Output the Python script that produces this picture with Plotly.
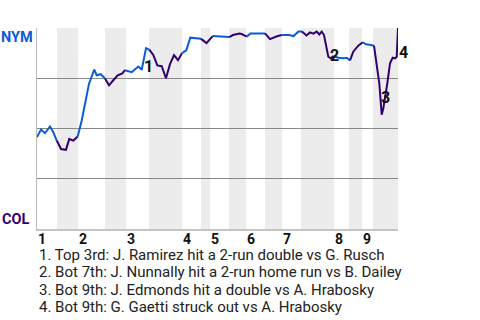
import plotly.graph_objects as go

# Game progress (event units) and NYM win probability
x_vals = [0.0, 0.94, 1.88, 3.06, 3.84, 4.64, 5.65, 6.82, 7.6, 8.54, 9.58, 10.52, 11.46, 12.24,
          13.48, 14.05, 14.99, 16.0, 16.94, 17.95, 18.99, 20.07, 20.7, 22.28, 23.84, 24.64,
          25.65, 26.42, 27.36, 28.31, 29.34, 30.35, 31.29, 32.24, 33.18, 34.12, 35.13, 36.07,
          37.18, 38.59, 39.88, 41.34, 44.24, 45.25, 46.12, 47.6, 48.16, 49.34, 50.24, 53.65,
          54.82, 56.47, 57.58, 59.29, 60.35, 61.53, 62.35, 63.41, 64.24, 65.01, 65.81, 66.42,
          66.99, 67.53, 68.54, 69.11, 69.76, 70.89, 72.07, 72.87, 73.65, 74.42, 75.6, 76.64,
          77.41, 78.52, 79.29, 80.54, 81.11, 81.48, 82.42, 83.06, 83.69, 84.24, 84.64, 84.94]
win_prob = [0.457, 0.495, 0.477, 0.51, 0.482, 0.44, 0.398, 0.394, 0.448, 0.44, 0.46, 0.54, 0.64,
            0.723, 0.793, 0.765, 0.77, 0.749, 0.715, 0.74, 0.765, 0.774, 0.79, 0.78, 0.808, 0.792,
            0.90, 0.892, 0.866, 0.814, 0.81, 0.75, 0.82, 0.865, 0.84, 0.875, 0.889, 0.952, 0.95,
            0.946, 0.925, 0.96, 0.959, 0.955, 0.965, 0.972, 0.97, 0.957, 0.973, 0.973, 0.945,
            0.959, 0.965, 0.965, 0.96, 0.983, 0.983, 0.963, 0.978, 0.972, 0.982, 0.968, 0.982,
            0.965, 0.857, 0.849, 0.861, 0.852, 0.849, 0.852, 0.839, 0.882, 0.912, 0.929, 0.919,
            0.915, 0.912, 0.724, 0.569, 0.599, 0.724, 0.824, 0.852, 0.849, 0.857, 1.0]

# Half-inning start positions (top 1, bot 1, top 2, ...) and game end
half_starts = [0.0, 4.7, 9.65, 16.0, 20.94, 26.35, 34.12, 38.59, 40.7, 45.18, 49.18, 53.65,
               57.65, 62.12, 69.88, 73.41, 76.47, 79.06]
game_end = 84.94
inning_labels = ["1", "2", "3", "4", "5", "6", "7", "8", "9"]

# Key events (label positions in game-progress / probability units)
event_nums = ["1", "2", "3", "4"]
event_x = [26.35, 69.9, 82.1, 84.94]
event_y = [0.81, 0.865, 0.655, 0.88]
event_xshift = [0, 0, 0, 5]
event_texts = [
    "1. Top 3rd: J. Ramirez hit a 2-run double vs G. Rusch",
    "2. Bot 7th: J. Nunnally hit a 2-run home run vs B. Dailey",
    "3. Bot 9th: J. Edmonds hit a double vs A. Hrabosky",
    "4. Bot 9th: G. Gaetti struck out vs A. Hrabosky",
]

NYM_BLUE = "#0b5ad9"
COL_PURPLE = "#33006f"
FONT = "Roboto"

fig = go.Figure()

half_ends = half_starts[1:] + [game_end]

# shaded bottom-half bands
for i, (s, e) in enumerate(zip(half_starts, half_ends)):
    if i % 2 == 1:
        fig.add_shape(type="rect", xref="x", yref="paper", x0=s, x1=e, y0=0, y1=1,
                      fillcolor="#ececec", line_width=0, layer="below")


def half_index(xm):
    idx = 0
    for i, s in enumerate(half_starts):
        if xm >= s:
            idx = i
    return idx

# group consecutive segments by batting team colour
groups = []
for i in range(len(x_vals) - 1):
    mid = (x_vals[i] + x_vals[i + 1]) / 2
    team = half_index(mid) % 2
    if groups and groups[-1][0] == team:
        groups[-1][1].append(i + 1)
    else:
        groups.append((team, [i, i + 1]))

for team, idxs in groups:
    fig.add_trace(go.Scatter(
        x=[x_vals[j] for j in idxs], y=[win_prob[j] for j in idxs],
        mode="lines", line=dict(color=NYM_BLUE if team == 0 else COL_PURPLE, width=2),
        hoverinfo="skip", showlegend=False, cliponaxis=False))

annotations = []
# inning numbers
for k, lab in enumerate(inning_labels):
    annotations.append(dict(x=half_starts[2 * k], y=0, xref="x", yref="paper",
                            text="<b>%s</b>" % lab, showarrow=False, xanchor="left",
                            yanchor="middle", yshift=-10, xshift=0, borderpad=0,
                            font=dict(family=FONT, size=14, color="#111")))
# event markers
for n, ex, ey, xs in zip(event_nums, event_x, event_y, event_xshift):
    annotations.append(dict(x=ex, y=ey, xref="x", yref="y", text="<b>%s</b>" % n,
                            showarrow=False, xshift=xs,
                            font=dict(family=FONT, size=16, color="#111")))
# team labels
annotations.append(dict(x=0, y=1, xref="paper", yref="paper", text="<b>NYM</b>", showarrow=False,
                        xanchor="right", yanchor="top", xshift=-2, yshift=1,
                        font=dict(family=FONT, size=14.5, color=NYM_BLUE)))
annotations.append(dict(x=0, y=0, xref="paper", yref="paper", text="<b>COL</b>", showarrow=False,
                        xanchor="right", yanchor="bottom", xshift=-6, yshift=-1,
                        font=dict(family=FONT, size=14.5, color=COL_PURPLE)))
# event list
for i, t in enumerate(event_texts):
    annotations.append(dict(x=0, y=0, xref="paper", yref="paper", text=t,
                            showarrow=False, xanchor="left", yanchor="middle", align="left",
                            xshift=1, yshift=-26 - 17.3 * i, borderpad=0,
                            font=dict(family=FONT, size=15, color="#222")))

fig.update_layout(
    width=480, height=320,
    margin=dict(l=37, r=82, t=28, b=91),
    paper_bgcolor="white", plot_bgcolor="white",
    xaxis=dict(range=[0, game_end], showgrid=False, zeroline=False, showticklabels=False,
               showline=True, linecolor="#c4c4c4", linewidth=2, ticks=""),
    yaxis=dict(range=[0, 1], tickvals=[0.25, 0.5, 0.75, 1.0], showgrid=True, gridcolor="#888",
               gridwidth=1, zeroline=False, showticklabels=False, showline=True,
               linecolor="#bbb", linewidth=1, ticks=""),
    annotations=annotations,
    showlegend=False,
)

fig.write_html("out.html")
